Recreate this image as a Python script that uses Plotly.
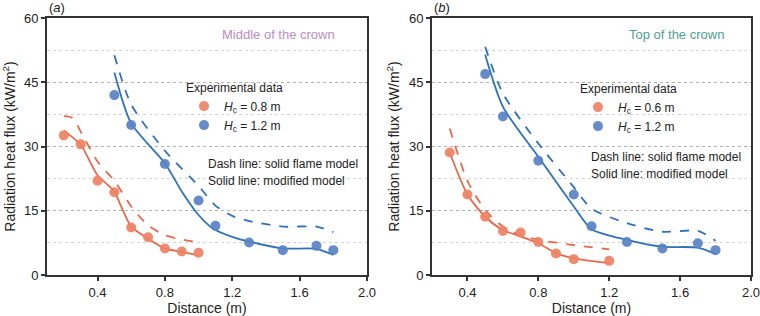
import plotly.graph_objects as go

# ---------------- data ----------------
# Panel (a): middle of the crown
a_red_x = [0.2, 0.3, 0.4, 0.5, 0.6, 0.7, 0.8, 0.9, 1.0]
a_red_y = [32.6, 30.5, 22.0, 19.3, 11.1, 8.8, 6.2, 5.5, 5.2]
a_blue_x = [0.5, 0.6, 0.8, 1.0, 1.1, 1.3, 1.5, 1.7, 1.8]
a_blue_y = [42.0, 35.0, 25.9, 17.4, 11.5, 7.6, 5.8, 6.8, 5.8]

a_red_solid_x = [0.2, 0.3, 0.4, 0.5, 0.54, 0.6, 0.7, 0.8, 0.9, 1.0]
a_red_solid_y = [33.7, 30.4, 23.3, 19.5, 16.0, 11.3, 8.5, 6.2, 5.4, 4.6]
a_red_dash_x = [0.2, 0.25, 0.32, 0.4, 0.5, 0.6, 0.7, 0.8, 0.9, 1.0]
a_red_dash_y = [37.1, 36.7, 32.0, 26.5, 22.0, 16.0, 11.6, 9.3, 8.3, 7.6]
a_blue_solid_x = [0.5, 0.6, 0.8, 0.9, 1.0, 1.08, 1.2, 1.3, 1.5, 1.7, 1.8]
a_blue_solid_y = [47.3, 35.4, 26.1, 19.5, 14.0, 11.0, 8.9, 7.8, 6.2, 6.1, 4.7]
a_blue_dash_x = [0.5, 0.6, 0.8, 1.0, 1.1, 1.2, 1.3, 1.5, 1.7, 1.8]
a_blue_dash_y = [51.3, 39.8, 29.0, 20.8, 16.2, 13.8, 12.6, 11.3, 11.3, 10.0]

# Panel (b): top of the crown
b_red_x = [0.3, 0.4, 0.5, 0.6, 0.7, 0.8, 0.9, 1.0, 1.2]
b_red_y = [28.6, 18.8, 13.6, 10.3, 9.9, 7.7, 5.0, 3.7, 3.3]
b_blue_x = [0.5, 0.6, 0.8, 1.0, 1.1, 1.3, 1.5, 1.7, 1.8]
b_blue_y = [46.9, 37.0, 26.7, 18.8, 11.4, 7.7, 6.2, 7.4, 5.8]

b_red_solid_x = [0.3, 0.4, 0.5, 0.6, 0.7, 0.8, 0.9, 1.0, 1.2]
b_red_solid_y = [28.6, 18.8, 13.6, 10.5, 9.0, 7.4, 5.1, 3.9, 2.8]
b_red_dash_x = [0.3, 0.4, 0.5, 0.6, 0.7, 0.8, 1.0, 1.2]
b_red_dash_y = [34.2, 22.0, 15.2, 11.3, 9.3, 8.2, 7.0, 6.0]
b_blue_solid_x = [0.5, 0.6, 0.8, 1.0, 1.1, 1.3, 1.5, 1.7, 1.8]
b_blue_solid_y = [51.4, 39.3, 27.6, 16.0, 10.7, 8.2, 6.6, 6.4, 4.9]
b_blue_dash_x = [0.5, 0.6, 0.8, 1.0, 1.1, 1.3, 1.5, 1.7, 1.8]
b_blue_dash_y = [53.3, 42.4, 30.7, 20.5, 15.5, 12.1, 10.1, 10.3, 8.0]

x_ticks = [0.4, 0.8, 1.2, 1.6, 2.0]
y_ticks = [0, 15, 30, 45, 60]

RED_LINE = "#e8694a"
RED_PT = "rgba(238,130,100,0.92)"
BLUE_LINE = "#2f72b8"
BLUE_PT = "rgba(88,130,196,0.92)"
FONT = "Liberation Sans, Arial, sans-serif"

W, H = 760, 316


def px(sx):
    return sx / W


def py(sy):
    return 1 - sy / H


fig = go.Figure()


def add_panel(xa, ya, legend, rs_x, rs_y, rd_x, rd_y, bs_x, bs_y, bd_x, bd_y,
              rp_x, rp_y, bp_x, bp_y, red_label, blue_label):
    for xs, ys, col, dash in [(rd_x, rd_y, RED_LINE, "dash"),
                              (rs_x, rs_y, RED_LINE, "solid"),
                              (bd_x, bd_y, BLUE_LINE, "dash"),
                              (bs_x, bs_y, BLUE_LINE, "solid")]:
        fig.add_trace(go.Scatter(x=xs, y=ys, mode="lines", xaxis=xa, yaxis=ya,
                                 line=dict(color=col, width=1.8, dash=dash, shape="spline", smoothing=0.7),
                                 showlegend=False, hoverinfo="skip"))
    fig.add_trace(go.Scatter(x=rp_x, y=rp_y, mode="markers", xaxis=xa, yaxis=ya,
                             marker=dict(color=RED_PT, size=10, line=dict(width=0)),
                             name=red_label, legend=legend))
    fig.add_trace(go.Scatter(x=bp_x, y=bp_y, mode="markers", xaxis=xa, yaxis=ya,
                             marker=dict(color=BLUE_PT, size=10, line=dict(width=0)),
                             name=blue_label, legend=legend))


add_panel("x", "y", "legend", a_red_solid_x, a_red_solid_y, a_red_dash_x, a_red_dash_y,
          a_blue_solid_x, a_blue_solid_y, a_blue_dash_x, a_blue_dash_y,
          a_red_x, a_red_y, a_blue_x, a_blue_y,
          "<i>H</i><sub>c</sub> = 0.8 m", "<i>H</i><sub>c</sub> = 1.2 m")
add_panel("x2", "y2", "legend2", b_red_solid_x, b_red_solid_y, b_red_dash_x, b_red_dash_y,
          b_blue_solid_x, b_blue_solid_y, b_blue_dash_x, b_blue_dash_y,
          b_red_x, b_red_y, b_blue_x, b_blue_y,
          "<i>H</i><sub>c</sub> = 0.6 m", "<i>H</i><sub>c</sub> = 1.2 m")

ydom = [py(275), py(18)]

common_x = dict(showline=True, linecolor="#333333", linewidth=2, mirror=True,
                ticks="outside", ticklen=4, tickcolor="#333333", tickwidth=1.5,
                showgrid=False, zeroline=False, tickvals=x_ticks, tickformat=".1f",
                ticklabeloverflow="allow",
                tickfont=dict(size=13, color="#222", family=FONT),
                title=dict(text="Distance (m)", font=dict(size=14, color="#222", family=FONT), standoff=6))
common_y = dict(showline=True, linecolor="#333333", linewidth=2, mirror=True,
                ticks="outside", ticklen=4, tickcolor="#333333", tickwidth=1.5,
                range=[0, 60], tickvals=y_ticks, zeroline=False,
                showgrid=True, gridcolor="#b0b0b0", griddash="dot", gridwidth=1,
                minor=dict(tickvals=[7.5, 22.5, 37.5, 52.5], showgrid=True, gridcolor="#d4d4d4",
                           griddash="dot", gridwidth=1, ticks=""),
                tickfont=dict(size=13, color="#222", family=FONT),
                title=dict(text="Radiation heat flux (kW/m<sup>2</sup>)",
                           font=dict(size=14, color="#222", family=FONT), standoff=6))

legend_style = dict(xanchor="left", yanchor="top", bgcolor="rgba(0,0,0,0)",
                    font=dict(size=12, color="#222", family=FONT),
                    title=dict(text="Experimental data", font=dict(size=12, color="#222", family=FONT)),
                    itemwidth=30, tracegroupgap=0)

fig.update_layout(
    width=W, height=H,
    margin=dict(l=0, r=0, t=0, b=0, autoexpand=False),
    paper_bgcolor="white", plot_bgcolor="white",
    font=dict(family=FONT, color="#222"),
    xaxis=dict(domain=[px(47), px(367)], range=[0.1, 2.0], anchor="y", **common_x),
    yaxis=dict(domain=ydom, anchor="x", **common_y),
    xaxis2=dict(domain=[px(432), px(751)], range=[0.2, 2.0], anchor="y2", **common_x),
    yaxis2=dict(domain=ydom, anchor="x2", **common_y),
    legend=dict(x=px(184), y=py(76), **legend_style),
    legend2=dict(x=px(578), y=py(77), **legend_style),
    showlegend=True,
)

for text, sx in [("(<i>a</i>)", 47), ("(<i>b</i>)", 432)]:
    fig.add_annotation(text=text, x=px(sx), y=py(7), xref="paper", yref="paper",
                       xanchor="left", yanchor="middle", showarrow=False,
                       font=dict(size=13, color="#222", family=FONT))

fig.add_annotation(text="Middle of the crown", x=px(278), y=py(34), xref="paper", yref="paper",
                   xanchor="center", yanchor="middle", showarrow=False,
                   font=dict(size=13, color="#b98dbf", family=FONT))
fig.add_annotation(text="Top of the crown", x=px(676), y=py(34), xref="paper", yref="paper",
                   xanchor="center", yanchor="middle", showarrow=False,
                   font=dict(size=13, color="#4e9e91", family=FONT))

for sx, (y1, y2) in [(206, (164, 181)), (589, (157, 174))]:
    fig.add_annotation(text="Dash line: solid flame model", x=px(sx), y=py(y1),
                       xref="paper", yref="paper", xanchor="left", yanchor="middle",
                       showarrow=False, font=dict(size=12, color="#222", family=FONT))
    fig.add_annotation(text="Solid line: modified model", x=px(sx), y=py(y2),
                       xref="paper", yref="paper", xanchor="left", yanchor="middle",
                       showarrow=False, font=dict(size=12, color="#222", family=FONT))

# remove the default page margin so the 760x316 figure fills the window exactly
fig.write_html("out.html", config={"displayModeBar": False},
               post_script="document.body.style.margin='0';document.body.style.overflow='hidden';")
